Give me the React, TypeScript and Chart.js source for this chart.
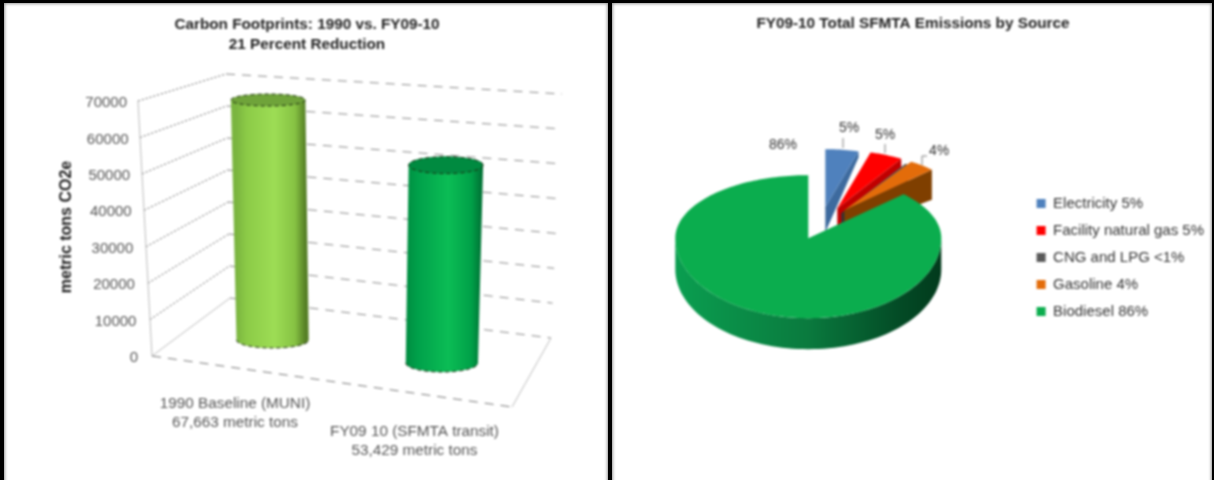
import React, { useEffect, useRef } from "react";
import { Chart, registerables } from "chart.js";

Chart.register(...registerables);

const FONT = '"Liberation Sans", Arial, sans-serif';

// ---- data, left chart
const barTitle = ["Carbon Footprints: 1990 vs. FY09-10", "21 Percent Reduction"];
const barCategories = [
  ["1990 Baseline (MUNI)", "67,663 metric tons"],
  ["FY09 10 (SFMTA transit)", "53,429 metric tons"],
];
const barValues = [67663, 53429];
const barAxisTitle = "metric tons CO2e";
const barColors = ["#9BDC55", "#0BBD55"];

// ---- data, right chart
const pieTitle = "FY09-10 Total SFMTA Emissions by Source";
const pieCategories = [
  "Electricity 5%",
  "Facility natural gas 5%",
  "CNG and LPG <1%",
  "Gasoline 4%",
  "Biodiesel 86%",
];
const pieValues = [5, 5, 0.5, 4, 86];
const pieValueLabels = ["5%", "5%", "", "4%", "86%"];
const pieColors = ["#4F81BD", "#FF0000", "#595959", "#E36C0A", "#0BAD4E"];

// ---- 3D styling, left chart
const wall = {
  frontLeft: [[152, 356], [138, 101]],
  backLeft: [[230, 298], [226, 74]],
  backRight: [[551, 338], [562, 94]],
  frontRight: [512, 407],
};
const cylinderStyles = [
  {
    baseShift: -16, heightScale: 0.974, topDx: -2, botDx: 2.5, ryTop: 6, ryBot: 8, cap: "#6FA33A",
    stops: ["#7AB53F", "#8CCB47", "#9DDD55", "#86C243", "#557F25"],
  },
  {
    baseShift: 7, heightScale: 1.017, topDx: 2.5, botDx: -1.5, ryTop: 8.5, ryBot: 9, cap: "#008A40",
    stops: ["#008C40", "#00A04A", "#0BBD55", "#00A048", "#006B32"],
  },
];
const stopAt = [0, 0.15, 0.55, 0.85, 1];
const categoryLabelAnchors = [[235, 404], [414.5, 431.5]];

const lerp = (a: number, b: number, t: number) => a + (b - a) * t;

const cylinderPlugin = {
  id: "cylinder3d",
  beforeDatasetsDraw(chart: any) {
    const { ctx } = chart;
    const y = chart.scales.y;
    const ticks = y.ticks.map((t: any) => t.value);
    ctx.save();
    ctx.lineWidth = 1;
    for (const v of ticks) {
      const f = v / y.max;
      const py = y.getPixelForValue(v);
      const fx = lerp(wall.frontLeft[0][0], wall.frontLeft[1][0], f);
      const bx = lerp(wall.backLeft[0][0], wall.backLeft[1][0], f);
      const by = lerp(wall.backLeft[0][1], wall.backLeft[1][1], f);
      const rx = lerp(wall.backRight[0][0], wall.backRight[1][0], f);
      const ry = lerp(wall.backRight[0][1], wall.backRight[1][1], f);
      ctx.strokeStyle = v === 0 ? "#bbbbbb" : "#666666";
      ctx.setLineDash(v === 0 ? [] : [2, 2]);
      ctx.beginPath();
      ctx.moveTo(fx, py);
      ctx.lineTo(bx, by);
      ctx.stroke();
      ctx.strokeStyle = "#888888";
      ctx.setLineDash([9, 7]);
      ctx.beginPath();
      ctx.moveTo(bx, by);
      ctx.lineTo(rx, ry);
      ctx.stroke();
    }
    ctx.setLineDash([]);
    ctx.strokeStyle = "#bbbbbb";
    ctx.beginPath();
    ctx.moveTo(wall.frontLeft[1][0], wall.frontLeft[1][1]);
    ctx.lineTo(wall.frontLeft[0][0], wall.frontLeft[0][1]);
    ctx.moveTo(wall.backRight[0][0], wall.backRight[0][1]);
    ctx.lineTo(wall.frontRight[0], wall.frontRight[1]);
    ctx.stroke();
    ctx.strokeStyle = "#777777";
    ctx.setLineDash([9, 7]);
    ctx.beginPath();
    ctx.moveTo(wall.frontLeft[0][0], wall.frontLeft[0][1]);
    ctx.lineTo(wall.frontRight[0], wall.frontRight[1]);
    ctx.stroke();
    ctx.restore();
  },
  beforeDatasetDraw(chart: any, args: any) {
    const { ctx } = chart;
    const meta = chart.getDatasetMeta(args.index);
    meta.data.forEach((el: any, i: number) => {
      const s = cylinderStyles[i];
      const base = el.base + s.baseShift;
      const top = base - (el.base - el.y) * s.heightScale;
      const cxT = el.x + s.topDx;
      const cxB = el.x + s.botDx;
      const rT = el.width / 2;
      const rB = (el.width / 2) * 0.97;
      ctx.save();
      const g = ctx.createLinearGradient(cxB - rB, 0, cxT + rT, 0);
      s.stops.forEach((c: string, k: number) => g.addColorStop(stopAt[k], c));
      ctx.fillStyle = g;
      ctx.beginPath();
      ctx.moveTo(cxT - rT, top);
      ctx.lineTo(cxB - rB, base);
      ctx.ellipse(cxB, base, rB, s.ryBot, 0, Math.PI, 0, true);
      ctx.lineTo(cxT + rT, top);
      ctx.ellipse(cxT, top, rT, s.ryTop, 0, 0, Math.PI, true);
      ctx.closePath();
      ctx.fill();
      ctx.fillStyle = s.cap;
      ctx.beginPath();
      ctx.ellipse(cxT, top, rT, s.ryTop, 0, 0, Math.PI * 2);
      ctx.fill();
      ctx.strokeStyle = "#1c2c10";
      ctx.lineWidth = 1;
      ctx.setLineDash([4, 3]);
      ctx.stroke();
      ctx.beginPath();
      ctx.ellipse(cxB, base, rB, s.ryBot, 0, Math.PI, 0, true);
      ctx.stroke();
      ctx.restore();
    });
    return false;
  },
  afterDraw(chart: any) {
    const { ctx } = chart;
    const y = chart.scales.y;
    ctx.save();
    ctx.fillStyle = "#555555";
    ctx.font = `15px ${FONT}`;
    ctx.textAlign = "right";
    ctx.textBaseline = "middle";
    for (const t of y.ticks) {
      const f = t.value / y.max;
      const x = lerp(wall.frontLeft[0][0], wall.frontLeft[1][0], f);
      ctx.fillText(String(t.value), x - lerp(14, 11, f), y.getPixelForValue(t.value) + 2);
    }
    ctx.textAlign = "center";
    ctx.font = `15.3px ${FONT}`;
    barCategories.forEach((lines, i) => {
      lines.forEach((line, k) => {
        ctx.fillText(line, categoryLabelAnchors[i][0], categoryLabelAnchors[i][1] + k * 19);
      });
    });
    ctx.save();
    ctx.translate(67, 227);
    ctx.rotate(-Math.PI / 2);
    ctx.fillStyle = "#222222";
    ctx.font = `bold 16px ${FONT}`;
    ctx.fillText(barAxisTitle, 0, 0);
    ctx.restore();
    ctx.restore();
  },
};

// ---- 3D styling, right chart
const pieGeom = {
  shiftX: -10,
  shiftY: 54.5,
  backRatio: 63 / 133,
  frontRatio: 80 / 133,
  explodedRadius: 0.92,
  compress: 0.88,
  wallDepth: 31,
};
const sliceShift = [[17, -31], [29, -30], [33, -25], [36, -28], [0, 0]];
const sliceDepth = [
  { tip: 25, outer: 6, side: "#3D6A9E" },
  { tip: 18, outer: 20, side: "#C00000" },
  { tip: 18, outer: 20, side: "#333333" },
  { tip: 22, outer: 30, side: "#7F3F00" },
  { tip: 0, outer: 0, side: "#000000" },
];
const valueLabelAnchors = [[849, 128], [885, 135], [0, 0], [939, 151], [783, 145]];
const leaderLines = [
  [[843, 138], [843, 148]],
  [[885, 144], [885, 153]],
  [],
  [[927, 156], [922, 156], [922, 165]],
  [],
];

const piePlugin = {
  id: "pie3d",
  beforeDatasetDraw(chart: any, args: any) {
    const { ctx } = chart;
    const arcs = chart.getDatasetMeta(args.index).data;
    const knee = arcs[arcs.length - 1].startAngle + Math.PI / 2;
    const warpedKnee = knee * pieGeom.compress;
    const warp = (a: number) => {
      const t = a + Math.PI / 2;
      if (t <= knee + 1e-6) return t * pieGeom.compress;
      return warpedKnee + ((t - knee) * (Math.PI * 2 - warpedKnee)) / (Math.PI * 2 - knee);
    };
    const cx = arcs[0].x + pieGeom.shiftX;
    const cy = arcs[0].y + pieGeom.shiftY;
    const R = arcs[0].outerRadius;
    const at = (ox: number, oy: number, t: number, k: number) => {
      const c = Math.cos(t);
      const ry = R * (c > 0 ? pieGeom.backRatio : pieGeom.frontRatio);
      return [ox + R * k * Math.sin(t), oy - ry * k * c];
    };
    arcs.forEach((el: any, i: number) => {
      const t0 = warp(el.startAngle);
      const t1 = warp(el.endAngle);
      const shift = sliceShift[i];
      const exploded = shift[0] !== 0 || shift[1] !== 0;
      const k = exploded ? pieGeom.explodedRadius : 1;
      const ox = cx + shift[0];
      const oy = cy + shift[1];
      ctx.save();
      if (exploded) {
        const d = sliceDepth[i];
        const end = at(ox, oy, t1, k);
        ctx.fillStyle = d.side;
        ctx.beginPath();
        ctx.moveTo(ox, oy);
        ctx.lineTo(end[0], end[1]);
        ctx.lineTo(end[0], end[1] + d.outer);
        ctx.lineTo(ox, oy + d.tip);
        ctx.closePath();
        ctx.fill();
      } else {
        const g = ctx.createLinearGradient(cx - R, 0, cx + R, 0);
        g.addColorStop(0, "#0A9E50");
        g.addColorStop(0.5, "#0A7A3E");
        g.addColorStop(0.85, "#034A25");
        g.addColorStop(1, "#023A1C");
        ctx.fillStyle = g;
        ctx.beginPath();
        const n = 80;
        for (let j = 0; j <= n; j++) {
          const p = at(ox, oy, lerp(Math.PI / 2, (Math.PI * 3) / 2, j / n), k);
          if (j === 0) ctx.moveTo(p[0], p[1]);
          else ctx.lineTo(p[0], p[1]);
        }
        for (let j = n; j >= 0; j--) {
          const p = at(ox, oy, lerp(Math.PI / 2, (Math.PI * 3) / 2, j / n), k);
          ctx.lineTo(p[0], p[1] + pieGeom.wallDepth);
        }
        ctx.closePath();
        ctx.fill();
      }
      ctx.fillStyle = pieColors[i];
      ctx.beginPath();
      ctx.moveTo(ox, oy);
      const steps = Math.max(4, Math.ceil((t1 - t0) * 40));
      for (let j = 0; j <= steps; j++) {
        const p = at(ox, oy, lerp(t0, t1, j / steps), k);
        ctx.lineTo(p[0], p[1]);
      }
      ctx.closePath();
      ctx.fill();
      ctx.restore();
    });
    return false;
  },
  afterDraw(chart: any) {
    const { ctx } = chart;
    const originX = chart.canvas.offsetLeft;
    ctx.save();
    ctx.strokeStyle = "#7f7f7f";
    ctx.lineWidth = 1;
    leaderLines.forEach((line) => {
      if (!line.length) return;
      ctx.beginPath();
      line.forEach((p, j) => {
        if (j === 0) ctx.moveTo(p[0] - originX, p[1]);
        else ctx.lineTo(p[0] - originX, p[1]);
      });
      ctx.stroke();
    });
    ctx.fillStyle = "#333333";
    ctx.font = `14px ${FONT}`;
    ctx.textAlign = "center";
    ctx.textBaseline = "middle";
    pieValueLabels.forEach((s, i) => {
      if (s) ctx.fillText(s, valueLabelAnchors[i][0] - originX, valueLabelAnchors[i][1]);
    });
    ctx.restore();
  },
};

export default function App() {
  const leftRef = useRef<HTMLCanvasElement>(null);
  const rightRef = useRef<HTMLCanvasElement>(null);

  useEffect(() => {
    const left = new Chart(leftRef.current!, {
      type: "bar",
      data: {
        labels: barCategories as any,
        datasets: [
          {
            data: barValues,
            backgroundColor: barColors,
            barPercentage: 0.43,
            categoryPercentage: 1,
          },
        ],
      },
      plugins: [cylinderPlugin],
      options: {
        responsive: false,
        animation: false,
        layout: { padding: { bottom: 124 } },
        plugins: {
          legend: { display: false },
          tooltip: { enabled: false },
          title: {
            display: true,
            text: barTitle,
            color: "#222222",
            font: { family: FONT, size: 15.3, weight: "bold", lineHeight: 1.31 },
            padding: { top: 15, bottom: 46 },
          },
        },
        scales: {
          x: { display: false },
          y: {
            min: 0,
            max: 70000,
            ticks: { stepSize: 10000, display: false },
            grid: { display: false },
            border: { display: false },
            afterFit: (s: any) => { s.width = 183.5; },
          },
          y2: {
            position: "right",
            ticks: { display: false },
            grid: { display: false },
            border: { display: false },
            afterFit: (s: any) => { s.width = 84; },
          },
        },
      },
    } as any);

    const right = new Chart(rightRef.current!, {
      type: "pie",
      data: {
        labels: pieCategories,
        datasets: [{ data: pieValues, backgroundColor: pieColors, borderWidth: 0, radius: 133 }],
      },
      plugins: [piePlugin],
      options: {
        responsive: false,
        animation: false,
        layout: { padding: { bottom: 149 } },
        plugins: {
          tooltip: { enabled: false },
          title: {
            display: true,
            text: pieTitle,
            color: "#222222",
            font: { family: FONT, size: 15.3, weight: "bold", lineHeight: 1.2 },
            padding: { top: 15, bottom: 3 },
          },
          legend: {
            position: "right",
            align: "end",
            labels: {
              color: "#333333",
              font: { family: FONT, size: 15 },
              boxWidth: 9,
              boxHeight: 9,
              padding: 12,
            },
          },
        },
      },
    } as any);

    return () => {
      left.destroy();
      right.destroy();
    };
  }, []);

  const panel = (x: number, w: number): React.CSSProperties => ({
    position: "absolute",
    left: x,
    top: 3,
    width: w,
    height: 490,
    background: "#fff",
    boxShadow: "inset 0 0 3px 1px #999",
  });
  const canvasStyle = (x: number, w: number): React.CSSProperties => ({
    position: "absolute",
    left: x,
    top: 0,
    width: w,
    height: 480,
    filter: "blur(0.8px)",
  });

  return (
    <div style={{ position: "absolute", left: 0, top: 0, width: 1214, height: 480, background: "#000", overflow: "hidden" }}>
      <div style={panel(4, 604)} />
      <div style={panel(612, 600)} />
      <canvas ref={leftRef} width={614} height={480} style={canvasStyle(0, 614)} />
      <canvas ref={rightRef} width={602} height={480} style={canvasStyle(612, 602)} />
    </div>
  );
}
